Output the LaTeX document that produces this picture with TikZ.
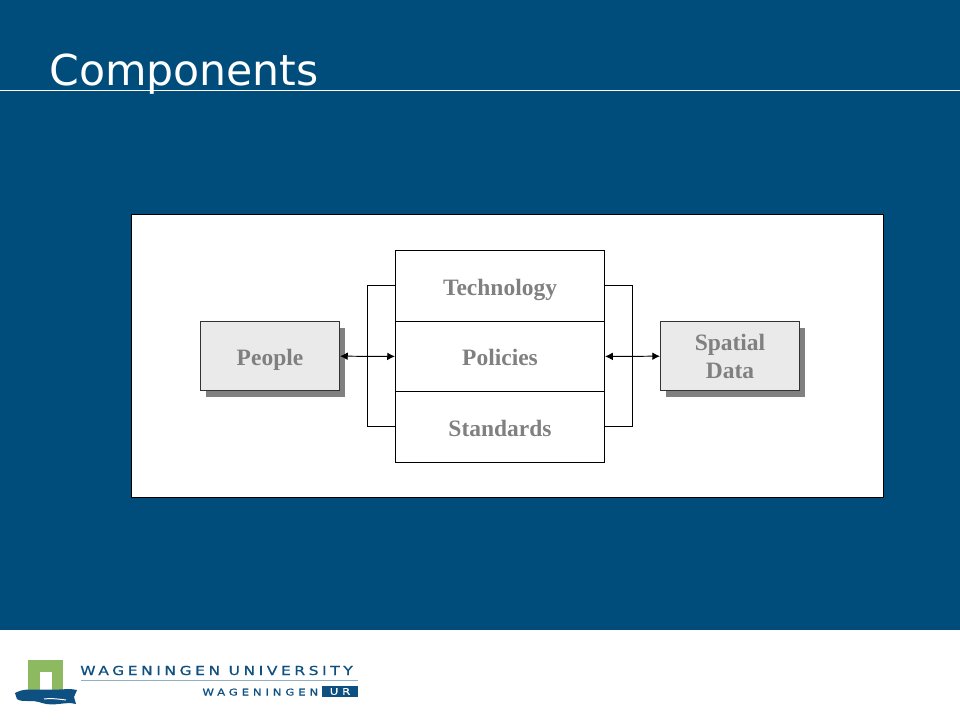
\documentclass[tikz,border=0pt]{standalone}
\usepackage{fontspec}
\usepackage{tikz}
\usetikzlibrary{shadows, arrows.meta}
\setmainfont{Liberation Serif}
\newfontfamily\titlefont{DejaVu Sans}
\newfontfamily\logofont[FakeStretch=1.25, FakeBold=0.8, LetterSpace=29]{DejaVu Sans}
\newfontfamily\logosmallfont[FakeStretch=1.25, FakeBold=0.8, LetterSpace=42]{DejaVu Sans}
\definecolor{slideblue}{HTML}{004C7A}
\definecolor{labelgray}{HTML}{808080}
\definecolor{boxgray}{HTML}{EAEAEA}
\definecolor{logogreen}{HTML}{8DB960}
\definecolor{logoblue}{HTML}{0F5082}
\definecolor{logoline}{HTML}{8FAFC6}
\tikzset{
	midbox/.style={draw=black, fill=white, line width=0.7pt, minimum width=5.225cm, minimum height=1.7625cm, inner sep=0pt, text=labelgray, font=\fontsize{16.7}{20}\selectfont\bfseries, align=center},
	sidebox/.style={draw=black!80, fill=boxgray, line width=0.7pt, minimum width=3.475cm, minimum height=1.725cm, inner sep=0pt, text=labelgray, font=\fontsize{16.7}{20}\selectfont\bfseries, align=center, drop shadow={shadow xshift=0.14cm, shadow yshift=-0.15cm, opacity=1, fill=labelgray}},
	oneline/.style={text height=15pt, text depth=1.4pt},
	link/.style={draw=black, line width=0.7pt},
	twoway/.style={link, {Latex[length=5.5pt, width=5.5pt]}-{Latex[length=5.5pt, width=5.5pt]}}
}
\begin{document}
\begin{tikzpicture}[x=0.025cm, y=-0.025cm]
	\useasboundingbox (0, 0) rectangle (960, 720);
	\fill[white] (0, 0) rectangle (960, 720);
	\fill[slideblue] (0, 0) rectangle (960, 630);
	% title
	\draw[white, line width=0.7pt] (0, 90.5) -- (960, 90.5);
	\node[anchor=base west, inner sep=0pt, text=white, font=\titlefont\fontsize{30.3}{36}\selectfont] (title) at (49, 85.5) {Components};
	% panel
	\filldraw[fill=white, draw=black, line width=0.7pt] (131.5, 214.5) rectangle (883.5, 497.5);
	\coordinate (leftbar) at (367.5, 356);
	\coordinate (rightbar) at (632.5, 356);
	% middle stack
	\node[midbox, oneline] (technology) at (500, 285.9) {Technology};
	\node[midbox, oneline] (policies) at (500, 356.4) {Policies};
	\node[midbox, oneline] (standards) at (500, 426.9) {Standards};
	% side boxes
	\node[sidebox, oneline] (people) at (270, 356.2) {People};
	\node[sidebox] (spatial) at (730, 356.2) {Spatial\\Data};
	% connectors
	\draw[link] (technology.west) -- (leftbar |- technology.west) -- (leftbar |- standards.west) -- (standards.west);
	\draw[link] (technology.east) -- (rightbar |- technology.east) -- (rightbar |- standards.east) -- (standards.east);
	\draw[twoway] (people.east) -- (policies.west);
	\draw[twoway] (policies.east) -- (spatial.west);
	% logo
	\fill[logogreen] (28, 660) rectangle (63, 692);
	\fill[white] (40, 672) rectangle (52, 692);
	\fill[logoblue] (15, 693) .. controls (25, 688) and (30, 690) .. (40, 689.5) -- (52, 689.5) .. controls (62, 690) and (70, 688) .. (77, 690) -- (74, 697) -- (76, 704) .. controls (65, 701) and (55, 707) .. (42, 703) .. controls (32, 699) and (22, 703) .. (17, 699) -- cycle;
	\draw[white, line width=0.7pt] (44, 699) .. controls (50, 698) and (58, 699) .. (66, 700);
	\node[anchor=base west, inner sep=0pt, text=logoblue, font=\logofont\fontsize{8.8}{10}\selectfont] (uni) at (80, 675) {WAGENINGEN UNIVERSITY};
	\fill[logoline] (81, 679.5) rectangle (358, 681);
	\node[anchor=base east, inner sep=0pt, text=logoblue, font=\logosmallfont\fontsize{6.6}{8}\selectfont] (wur) at (318.5, 695.5) {WAGENINGEN};
	\node[anchor=center, fill=logoblue, text=white, inner sep=0pt, minimum width=0.9cm, minimum height=0.275cm, font=\logosmallfont\fontsize{6.6}{8}\selectfont] (ur) at (340, 691.5) {UR};
\end{tikzpicture}
\end{document}
